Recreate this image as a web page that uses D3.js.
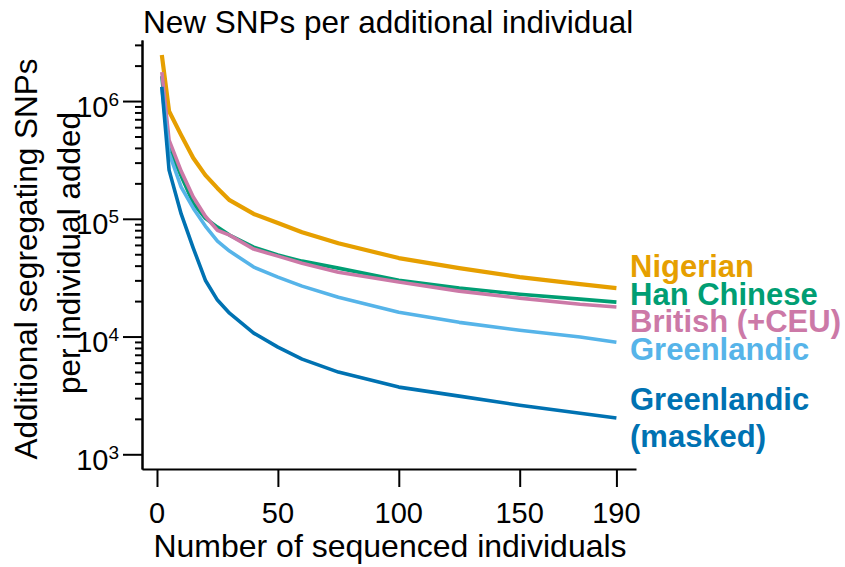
<!DOCTYPE html>
<html>
<head>
<meta charset="utf-8">
<script src="https://cdn.jsdelivr.net/npm/d3@7"></script>
<style>
  body { margin: 0; background: #fff; }
  svg { font-family: "Liberation Sans", Arial, Helvetica, sans-serif; }
  .axis path, .axis line { stroke: #000; stroke-width: 2; }
  .series { fill: none; stroke-linejoin: round; }
</style>
</head>
<body>
<div class="container"></div>
<script>
// number of sequenced individuals (x) and new SNPs per added individual (y)
const individuals = [2, 5, 10, 15, 20, 25, 30, 40, 50, 60, 75, 100, 125, 150, 175, 190];
const nigerian = [2.46e6, 8.2e5, 5.14e5, 3.28e5, 2.35e5, 1.82e5, 1.44e5, 1.10e5, 9.2e4, 7.7e4, 6.2e4, 4.64e4, 3.81e4, 3.20e4, 2.79e4, 2.58e4];
const hanChinese = [1.63e6, 3.99e5, 2.31e5, 1.36e5, 1.01e5, 8.5e4, 7.27e4, 5.75e4, 4.92e4, 4.37e4, 3.81e4, 3.01e4, 2.58e4, 2.29e4, 2.08e4, 1.96e4];
const british = [1.76e6, 4.66e5, 2.54e5, 1.53e5, 1.05e5, 8.0e4, 7.27e4, 5.53e4, 4.82e4, 4.2e4, 3.52e4, 2.9e4, 2.43e4, 2.12e4, 1.88e4, 1.78e4];
const greenlandic = [1.32e6, 3.62e5, 1.86e5, 1.23e5, 8.67e4, 6.47e4, 5.32e4, 3.89e4, 3.2e4, 2.68e4, 2.16e4, 1.61e4, 1.32e4, 1.13e4, 9.9e3, 8.96e3];
const greenlandicMasked = [1.32e6, 2.59e5, 1.1e5, 5.64e4, 3.01e4, 2.04e4, 1.58e4, 1.07e4, 8.13e3, 6.43e3, 4.99e3, 3.72e3, 3.12e3, 2.61e3, 2.23e3, 2.03e3];

const legendLines = [["Nigerian"], ["Han Chinese"], ["British (+CEU)"], ["Greenlandic"], ["Greenlandic", "(masked)"]];
const colors = ["#E69F00", "#009E73", "#CC79A7", "#56B4E9", "#0072B2"];

const xTicks = [0, 50, 100, 150, 190];
const yMajorTicks = [1e3, 1e4, 1e5, 1e6];
const yMinorTicks = [2e3, 3e3, 4e3, 5e3, 6e3, 7e3, 8e3, 9e3,
                     2e4, 3e4, 4e4, 5e4, 6e4, 7e4, 8e4, 9e4,
                     2e5, 3e5, 4e5, 5e5, 6e5, 7e5, 8e5, 9e5,
                     2e6, 3e6];

const WIDTH = 845;
const HEIGHT = 567;
const LEFT = 142, RIGHT = 636, TOP = 40, BOTTOM = 469;

var allSeries = [nigerian, hanChinese, british, greenlandic, greenlandicMasked];

var translate = function (x, y) {
  return "translate(" + x + "," + y + ")";
};

var xScale = d3.scaleLinear()
  .domain([-6.2, 198.1])
  .range([LEFT, RIGHT]);

var yScale = d3.scaleLog()
  .domain([750, 3.3e6])
  .range([BOTTOM, TOP]);

var svg = d3.select('.container').append('svg')
  .attr('width', WIDTH)
  .attr('height', HEIGHT);

// title
svg.append('text')
  .attr('x', 143)
  .attr('y', 33)
  .attr('font-size', 31.5)
  .text('New SNPs per additional individual');

// x axis
var xAxis = d3.axisBottom(xScale)
  .tickValues(xTicks)
  .tickSize(18)
  .tickSizeOuter(0)
  .tickFormat('');

svg.append('g')
  .attr('class', 'axis')
  .attr('transform', translate(0, BOTTOM))
  .call(xAxis);

svg.selectAll('.xlabel').data(xTicks)
  .enter().append('text')
  .attr('x', function (d) { return xScale(d); })
  .attr('y', 523)
  .attr('text-anchor', 'middle')
  .attr('font-size', 29)
  .text(function (d) { return d; });

svg.append('text')
  .attr('x', 390)
  .attr('y', 557)
  .attr('text-anchor', 'middle')
  .attr('font-size', 32)
  .text('Number of sequenced individuals');

// y axis, major + minor ticks
var yAxis = d3.axisLeft(yScale)
  .tickValues(yMajorTicks)
  .tickSize(19)
  .tickSizeOuter(0)
  .tickFormat('');

var yMinor = d3.axisLeft(yScale)
  .tickValues(yMinorTicks)
  .tickSize(7)
  .tickSizeOuter(0)
  .tickFormat('');

svg.append('g')
  .attr('class', 'axis')
  .attr('transform', translate(LEFT, 0))
  .call(yMinor);

var yG = svg.append('g')
  .attr('class', 'axis')
  .attr('transform', translate(LEFT, 0))
  .call(yAxis);

var yLabels = yG.selectAll('.tick')
  .append('text')
  .attr('x', -23)
  .attr('y', 15)
  .attr('fill', '#000')
  .attr('text-anchor', 'end')
  .attr('font-size', 29);

yLabels.append('tspan').text('10');
yLabels.append('tspan')
  .attr('dy', -11)
  .attr('font-size', 19)
  .text(function (d) { return Math.round(Math.log10(d)); });

svg.append('text')
  .attr('transform', translate(37, 259) + ' rotate(-90)')
  .attr('text-anchor', 'middle')
  .attr('font-size', 31.5)
  .text('Additional segregating SNPs');

svg.append('text')
  .attr('transform', translate(80, 253) + ' rotate(-90)')
  .attr('text-anchor', 'middle')
  .attr('font-size', 31.5)
  .text('per individual added');

// curves
var line = d3.line()
  .x(function (v, i) { return xScale(individuals[i]); })
  .y(function (v) { return yScale(v); });

svg.selectAll('.series').data(allSeries)
  .enter().append('path')
  .classed('series', true)
  .attr('stroke', function (d, i) { return colors[i]; })
  .attr('stroke-width', function (d, i) { return i === 0 ? 4.2 : 3.6; })
  .attr('d', function (d) { return line(d); });

// labels at right end
var legendBaselines = [[277], [305], [332], [360], [410, 447]];

legendLines.forEach(function (rows, i) {
  rows.forEach(function (row, j) {
    svg.append('text')
      .attr('x', 630)
      .attr('y', legendBaselines[i][j])
      .attr('fill', colors[i])
      .attr('font-weight', 'bold')
      .attr('font-size', 31)
      .text(row);
  });
});
</script>
</body>
</html>
